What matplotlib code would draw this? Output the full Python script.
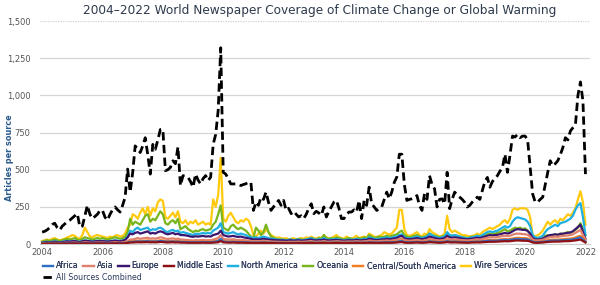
import numpy as np
import matplotlib
matplotlib.use("Agg")
import matplotlib.pyplot as plt
from matplotlib.ticker import FuncFormatter

start_year = 2004
years_ticks = [2004, 2006, 2008, 2010, 2012, 2014, 2016, 2018, 2020, 2022]
y_ticks = [0, 250, 500, 750, 1000, 1250, 1500]

all_sources = [
    80, 85, 95, 110, 130, 140, 110, 93, 120, 135, 150, 160,
    175, 190, 204, 115, 120, 190, 260, 200, 171, 185, 200, 226,
    226, 180, 160, 200, 230, 249, 230, 215, 260, 315, 504, 349,
    480, 660, 640, 615, 660, 715, 600, 470, 670, 637, 700, 770,
    770, 493, 500, 515, 560, 540, 653, 393, 460, 455, 448, 420,
    382, 470, 430, 404, 440, 460, 426, 450, 670, 737, 900, 1320,
    482, 470, 440, 404, 404, 404, 400, 393, 400, 405, 415, 415,
    226, 282, 260, 315, 300, 349, 280, 226, 250, 270, 293, 260,
    293, 226, 240, 204, 220, 200, 182, 190, 171, 200, 240, 271,
    204, 220, 209, 193, 249, 182, 220, 250, 282, 293, 240, 171,
    171, 200, 215, 215, 230, 215, 293, 171, 293, 260, 382, 271,
    250, 226, 235, 249, 300, 349, 304, 350, 415, 450, 604, 604,
    400, 293, 300, 304, 310, 326, 260, 226, 337, 300, 460, 400,
    371, 249, 300, 304, 270, 482, 238, 300, 349, 330, 315, 300,
    280, 249, 260, 282, 300, 315, 300, 360, 420, 448, 382, 420,
    440, 460, 490, 515, 604, 482, 600, 726, 720, 737, 715, 726,
    726, 700, 515, 337, 282, 282, 300, 315, 400, 482, 560, 526,
    540, 560, 600, 648, 715, 700, 760, 782, 800, 1000, 1090, 960,
    470,
]

wire_services = [
    20, 25, 30, 25, 35, 40, 30, 25, 30, 35, 45, 50,
    60, 55, 40, 35, 60, 110, 80, 50, 45, 55, 60, 55,
    50, 45, 40, 50, 45, 55, 60, 50, 55, 70, 110, 130,
    200, 190, 170, 210, 240, 200, 250, 190, 240, 220, 280, 300,
    290, 180, 170, 190, 210, 180, 220, 150, 140, 160, 130, 150,
    140, 160, 130, 140, 150, 130, 140, 130, 300, 250, 330, 580,
    170, 150, 190, 210, 180, 150, 140, 160, 150, 170, 160, 120,
    60, 50, 70, 90, 70, 100, 80, 60, 50, 40, 45, 40,
    35, 40, 30, 35, 40, 30, 35, 40, 35, 45, 40, 50,
    40, 35, 45, 40, 60, 45, 35, 40, 50, 60, 45, 40,
    35, 50, 40, 35, 45, 55, 40, 45, 50, 40, 70, 60,
    50, 45, 55, 60, 80, 70, 65, 70, 90, 110, 230, 230,
    100, 60, 55, 60, 70, 80, 60, 50, 70, 60, 100, 80,
    70, 60, 50, 55, 70, 190, 100, 80, 90, 80, 70, 60,
    60, 55, 50, 55, 60, 70, 60, 80, 90, 100, 110, 100,
    110, 120, 130, 150, 160, 140, 170, 230, 240, 230, 240, 240,
    240, 230, 180, 60, 50, 60, 70, 90, 120, 150, 130, 150,
    160, 140, 170, 160, 180, 200, 190, 210, 240, 300, 355, 280,
    130,
]

oceania = [
    15, 20, 25, 20, 25, 30, 25, 20, 25, 30, 35, 30,
    35, 40, 30, 25, 35, 45, 40, 35, 30, 35, 40, 35,
    40, 35, 30, 35, 40, 45, 40, 35, 40, 50, 80, 170,
    130, 150, 140, 130, 160, 190, 200, 150, 170, 160, 190, 220,
    200, 140, 130, 150, 160, 140, 170, 100, 110, 120, 100, 90,
    80, 90, 85, 95, 100, 90, 95, 100, 130, 150, 200, 260,
    110, 100, 90, 120, 130, 110, 100, 110, 100, 90, 70, 50,
    40, 110, 90, 60, 80, 130, 80, 50, 40, 35, 30, 30,
    30, 25, 30, 30, 25, 30, 35, 30, 25, 30, 35, 40,
    35, 30, 40, 35, 60, 40, 35, 40, 35, 45, 40, 35,
    30, 35, 40, 35, 30, 35, 40, 35, 45, 40, 60, 50,
    40, 45, 50, 45, 50, 55, 50, 55, 60, 65, 80, 90,
    60, 50, 45, 50, 55, 60, 50, 45, 50, 55, 70, 60,
    55, 50, 45, 50, 55, 70, 60, 55, 60, 55, 50, 45,
    45, 40, 45, 50, 45, 55, 50, 55, 60, 65, 70, 65,
    70, 75, 80, 90, 100, 85, 90, 100, 110, 105, 110, 100,
    105, 90, 70, 40, 35, 40, 45, 50, 55, 60, 55, 60,
    65, 60, 70, 65, 75, 80, 75, 85, 95, 110, 140, 100,
    60,
]

north_america = [
    10, 12, 15, 12, 15, 18, 15, 12, 15, 18, 20, 18,
    20, 22, 18, 15, 20, 25, 22, 20, 18, 20, 22, 20,
    22, 20, 18, 20, 22, 25, 22, 20, 25, 30, 50, 90,
    80, 100, 110, 95, 100, 105, 110, 90, 100, 95, 105, 110,
    100, 85, 80, 90, 95, 85, 90, 75, 80, 75, 70, 65,
    60, 70, 65, 70, 75, 70, 75, 70, 90, 100, 110, 140,
    80, 75, 70, 75, 80, 70, 65, 70, 65, 60, 50, 45,
    40, 45, 40, 45, 50, 45, 40, 35, 35, 30, 30, 28,
    28, 25, 28, 30, 25, 28, 30, 25, 28, 30, 35, 40,
    30, 28, 32, 30, 40, 30, 28, 30, 32, 35, 30, 28,
    25, 28, 30, 28, 30, 35, 30, 28, 35, 32, 45, 40,
    35, 32, 35, 38, 40, 45, 40, 42, 48, 50, 60, 65,
    45, 40, 38, 40, 45, 50, 45, 40, 45, 50, 70, 60,
    50, 45, 40, 45, 50, 80, 60, 55, 60, 55, 50, 45,
    40, 38, 40, 45, 50, 55, 50, 60, 70, 80, 85, 80,
    85, 90, 100, 110, 120, 110, 120, 150, 170, 180, 175, 170,
    165, 150, 120, 60, 45, 40, 45, 55, 80, 100, 110, 120,
    130, 120, 140, 145, 150, 160, 170, 190, 230, 260, 275, 180,
    60,
]

europe = [
    8, 10, 12, 10, 12, 15, 12, 10, 12, 15, 18, 15,
    18, 20, 15, 12, 18, 22, 20, 18, 15, 18, 20, 18,
    20, 18, 16, 18, 20, 22, 20, 18, 22, 28, 45, 70,
    65, 75, 80, 70, 75, 80, 85, 70, 75, 70, 80, 85,
    80, 70, 65, 70, 75, 65, 70, 60, 60, 58, 55, 50,
    48, 52, 50, 52, 55, 50, 52, 50, 60, 65, 70, 90,
    60, 55, 50, 52, 55, 50, 48, 50, 45, 42, 38, 35,
    30, 32, 30, 32, 35, 32, 30, 28, 27, 25, 25, 24,
    24, 22, 24, 25, 22, 24, 25, 22, 24, 25, 28, 30,
    25, 24, 26, 25, 30, 25, 24, 25, 26, 28, 25, 24,
    22, 24, 25, 24, 25, 28, 25, 24, 28, 26, 35, 32,
    28, 26, 28, 30, 32, 35, 32, 34, 38, 40, 50, 55,
    38, 34, 32, 34, 36, 40, 36, 32, 36, 40, 50, 45,
    40, 36, 34, 36, 40, 55, 45, 42, 45, 42, 40, 36,
    34, 32, 34, 36, 40, 42, 40, 45, 50, 55, 60, 58,
    60, 62, 65, 70, 75, 70, 75, 85, 95, 100, 98, 95,
    95, 88, 70, 40, 32, 30, 32, 36, 45, 55, 60, 62,
    65, 62, 68, 70, 72, 75, 78, 85, 100, 115, 130, 80,
    35,
]

asia = [
    5, 6, 7, 6, 7, 8, 7, 6, 7, 8, 9, 8,
    9, 10, 8, 7, 9, 11, 10, 9, 8, 9, 10, 9,
    10, 9, 8, 9, 10, 12, 10, 9, 11, 14, 20, 30,
    30, 35, 40, 35, 38, 40, 42, 36, 38, 36, 40, 45,
    42, 36, 34, 36, 38, 34, 36, 30, 30, 28, 27, 25,
    24, 26, 25, 26, 28, 25, 26, 25, 30, 35, 40, 60,
    35, 32, 30, 30, 32, 28, 27, 28, 26, 25, 22, 20,
    18, 20, 18, 20, 22, 20, 18, 17, 16, 15, 15, 14,
    14, 13, 14, 15, 14, 15, 16, 14, 15, 16, 18, 20,
    16, 15, 17, 16, 20, 16, 15, 16, 17, 19, 17, 16,
    15, 16, 17, 16, 17, 19, 17, 16, 19, 18, 24, 22,
    19, 18, 20, 21, 22, 24, 22, 23, 26, 28, 35, 38,
    26, 24, 22, 24, 25, 28, 25, 22, 25, 28, 35, 32,
    28, 25, 24, 25, 28, 38, 32, 30, 32, 30, 28, 26,
    25, 24, 25, 27, 30, 32, 30, 34, 38, 42, 45, 44,
    45, 47, 50, 53, 56, 53, 56, 62, 68, 70, 69, 67,
    66, 62, 50, 30, 25, 24, 26, 28, 35, 42, 46, 48,
    50, 48, 52, 54, 56, 58, 60, 65, 75, 85, 95, 60,
    30,
]

africa = [
    3, 3, 4, 3, 4, 4, 4, 3, 4, 4, 5, 4,
    5, 5, 4, 4, 5, 6, 5, 5, 4, 5, 5, 5,
    5, 5, 4, 5, 5, 6, 5, 5, 6, 7, 10, 14,
    14, 16, 18, 16, 17, 18, 19, 16, 17, 16, 18, 20,
    19, 16, 15, 16, 17, 15, 16, 14, 14, 13, 12, 12,
    11, 12, 12, 12, 13, 12, 12, 12, 14, 16, 20, 35,
    16, 15, 14, 14, 15, 13, 13, 13, 12, 12, 11, 10,
    9, 10, 9, 10, 11, 10, 9, 9, 8, 8, 8, 7,
    7, 7, 7, 8, 7, 8, 8, 7, 8, 8, 9, 10,
    8, 8, 9, 8, 10, 8, 8, 8, 9, 10, 9, 8,
    8, 8, 9, 8, 9, 10, 9, 8, 10, 9, 12, 11,
    10, 9, 10, 11, 11, 12, 11, 12, 13, 14, 18, 20,
    13, 12, 11, 12, 13, 14, 13, 11, 13, 14, 18, 16,
    14, 13, 12, 13, 14, 19, 16, 15, 16, 15, 14, 13,
    13, 12, 13, 14, 15, 16, 15, 17, 19, 21, 22, 22,
    22, 23, 25, 26, 28, 26, 28, 30, 33, 34, 33, 32,
    32, 30, 25, 15, 12, 12, 13, 14, 17, 20, 22, 23,
    24, 23, 25, 26, 27, 28, 29, 31, 35, 40, 45, 30,
    15,
]

middle_east = [
    2, 2, 3, 2, 3, 3, 3, 2, 3, 3, 3, 3,
    3, 4, 3, 3, 3, 4, 4, 3, 3, 3, 4, 3,
    4, 3, 3, 3, 4, 4, 4, 3, 4, 5, 7, 10,
    10, 11, 12, 11, 12, 12, 13, 11, 12, 11, 12, 14,
    13, 11, 10, 11, 12, 10, 11, 9, 9, 9, 8, 8,
    8, 8, 8, 8, 9, 8, 8, 8, 9, 10, 12, 20,
    11, 10, 9, 9, 10, 9, 8, 9, 8, 8, 7, 7,
    6, 7, 6, 7, 7, 7, 6, 6, 6, 5, 5, 5,
    5, 5, 5, 5, 5, 5, 6, 5, 5, 6, 6, 7,
    6, 5, 6, 6, 7, 6, 5, 6, 6, 7, 6, 6,
    5, 6, 6, 6, 6, 7, 6, 6, 7, 6, 8, 8,
    7, 6, 7, 7, 8, 8, 8, 8, 9, 10, 12, 13,
    9, 8, 8, 8, 9, 10, 9, 8, 9, 10, 12, 11,
    10, 9, 8, 9, 10, 13, 11, 10, 11, 10, 10, 9,
    9, 8, 9, 10, 10, 11, 10, 12, 13, 14, 15, 15,
    15, 16, 17, 18, 19, 18, 19, 21, 23, 24, 23, 22,
    22, 21, 17, 10, 8, 8, 9, 10, 12, 14, 15, 16,
    16, 16, 17, 18, 19, 19, 20, 22, 24, 27, 30, 20,
    10,
]

central_south_america = [
    4, 5, 5, 5, 5, 6, 5, 5, 5, 6, 6, 6,
    6, 7, 6, 5, 6, 8, 7, 6, 6, 6, 7, 6,
    7, 6, 6, 6, 7, 8, 7, 6, 7, 9, 13, 18,
    18, 20, 22, 20, 21, 22, 24, 20, 21, 20, 22, 25,
    24, 20, 19, 20, 21, 19, 20, 17, 17, 16, 15, 14,
    14, 15, 14, 15, 16, 14, 15, 14, 17, 20, 24, 30,
    20, 18, 17, 17, 18, 16, 16, 16, 15, 14, 13, 12,
    11, 12, 11, 12, 13, 12, 11, 10, 10, 9, 9, 9,
    9, 8, 9, 9, 8, 9, 10, 9, 9, 10, 11, 12,
    10, 9, 10, 10, 12, 10, 9, 10, 10, 11, 10, 10,
    9, 10, 10, 10, 10, 11, 10, 10, 11, 11, 14, 13,
    12, 11, 12, 13, 13, 14, 13, 14, 16, 17, 21, 24,
    16, 14, 13, 14, 15, 16, 15, 13, 15, 16, 21, 19,
    17, 15, 14, 15, 16, 22, 19, 18, 19, 18, 17, 15,
    15, 14, 15, 16, 18, 19, 18, 20, 23, 25, 27, 26,
    27, 28, 30, 32, 34, 32, 34, 37, 40, 42, 41, 40,
    40, 37, 30, 18, 15, 14, 15, 17, 21, 25, 27, 29,
    30, 29, 31, 32, 34, 35, 36, 39, 44, 50, 55, 40,
    20,
]

series = [
    ("Africa", africa, "#2f6fc6"),
    ("Asia", asia, "#e0806e"),
    ("Europe", europe, "#3b1670"),
    ("Middle East", middle_east, "#8e1014"),
    ("North America", north_america, "#1fb0e2"),
    ("Oceania", oceania, "#79b51c"),
    ("Central/South America", central_south_america, "#f47b20"),
    ("Wire Services", wire_services, "#ffc90e"),
]

fig = plt.figure(figsize=(6.0, 2.85), dpi=100)
ax = fig.add_axes([40/600, 1-244/285, 550/600, 223/285])

draw_order = ["Wire Services", "Oceania", "North America", "Europe", "Asia",
              "Central/South America", "Africa", "Middle East"]
handles = {}
for name in draw_order:
    for nm, vals, col in series:
        if nm == name:
            x = start_year + np.arange(len(vals)) / 12.0
            (h,) = ax.plot(x, vals, color=col, lw=1.6, solid_joinstyle="round")
            handles[nm] = h

x_all = start_year + np.arange(len(all_sources)) / 12.0
(h_all,) = ax.plot(x_all, all_sources, color="black", lw=2.0, dashes=(3.0, 1.6))

ax.set_xlim(2003.93, 2022.15)
ax.set_ylim(0, 1500)
ax.set_yticks(y_ticks)
ax.yaxis.set_major_formatter(FuncFormatter(lambda v, p: f"{int(v):,}"))
ax.set_xticks(years_ticks)
ax.tick_params(axis="both", length=0, labelsize=6.0, colors="#555555", pad=3)
ax.tick_params(axis="y", pad=7)
for s in ["top", "right", "left"]:
    ax.spines[s].set_visible(False)
ax.spines["bottom"].set_color("#cccccc")
ax.spines["bottom"].set_linewidth(0.8)
ax.grid(axis="y", color="#d6d6d6", lw=0.9)
ax.set_axisbelow(True)
gl = ax.get_ygridlines()
gl[-1].set_linestyle((0, (1, 1)))
gl[-1].set_color("#d0d0d0")

fig.text(0.016, 1-158/285, "Articles per source", rotation=90, ha="center", va="center",
         fontsize=5.9, color="#2b5b8c", fontweight="bold")

fig.text(0.533, 0.962, "2004\u20132022 World Newspaper Coverage of Climate Change or Global Warming",
         ha="center", va="center", fontsize=8.7, color="#2e3a4c")

leg1 = fig.legend([handles[nm] for nm, _, _ in series], [nm for nm, _, _ in series],
                  loc="lower left", bbox_to_anchor=(0.063, 0.035), ncol=8, frameon=False,
                  fontsize=5.7, handlelength=1.3, handletextpad=0.4, columnspacing=0.6,
                  labelcolor="#2e3a5c", borderpad=0.1)
leg2 = fig.legend([h_all], ["All Sources Combined"], loc="lower left",
                  bbox_to_anchor=(0.063, -0.005), frameon=False, fontsize=5.7,
                  handlelength=1.3, handletextpad=0.4, labelcolor="#2e3a5c", borderpad=0.1)
fig.add_artist(leg1)

fig.savefig("out.png", dpi=100)
